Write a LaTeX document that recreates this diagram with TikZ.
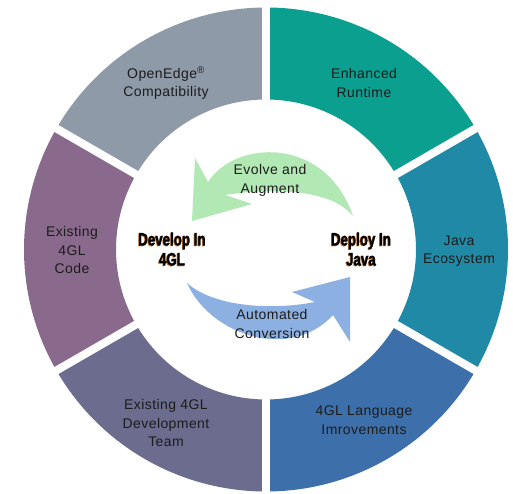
\documentclass[tikz,border=0pt]{standalone}
\usepackage{fontspec}
\setmainfont{Liberation Sans}[LetterSpace=3]
\newfontfamily\boldcond{Liberation Sans}[FakeStretch=0.74,FakeBold=1.2]
\definecolor{cgray}{HTML}{8F9AA8}
\definecolor{cteal}{HTML}{0A9F8F}
\definecolor{cjava}{HTML}{2089A6}
\definecolor{clang}{HTML}{3D70AA}
\definecolor{cteam}{HTML}{6C6C8E}
\definecolor{ccode}{HTML}{8A6A8C}
\definecolor{cblue}{HTML}{8DB0E2}
\definecolor{cgreen}{HTML}{B2E8B4}
\definecolor{ctext}{HTML}{1C1C1C}
\definecolor{cshadow}{HTML}{B86A20}
\newcommand\ringseg[3]{\fill[#1] (#2:242) arc[start angle=#2,end angle=#3,radius=242] -- (#3:150) arc[start angle=#3,end angle=#2,radius=150] -- cycle;}
\tikzset{
  seglabel/.style={align=center, inner sep=0pt, text=ctext, font=\fontsize{14}{18.5}\selectfont},
  arrowlabel/.style={align=center, inner sep=0pt, text=ctext, font=\fontsize{14}{19}\selectfont},
  hublabel/.style={align=center, inner sep=0pt, text=black, font=\boldcond\bfseries\fontsize{18}{20}\selectfont},
  hubshadow/.style={hublabel, text=cshadow},
}
\begin{document}
\begin{tikzpicture}[x=1pt,y=-1pt]
\fill[white] (0,0) rectangle (513,494);
\useasboundingbox (0,0) rectangle (513,494);
\begin{scope}[shift={(266,249.5)}]
  \ringseg{cteal}{-30}{-90}
  \ringseg{cgray}{-90}{-150}
  \ringseg{ccode}{-150}{-210}
  \ringseg{cteam}{-210}{-270}
  \ringseg{clang}{-270}{-330}
  \ringseg{cjava}{30}{-30}
  \foreach \a in {30,90,150,210,270,330}
    \draw[white, line width=8pt] (\a:140) -- (\a:252);
\end{scope}
% blue arrow
\fill[cblue] (187,283) .. controls (210,335) and (290,362) .. (333,315)
  -- (350,342) -- (350,277) -- (292,292) -- (315,302)
  .. controls (275,310) and (215,308) .. (187,283) -- cycle;
% green arrow
\fill[cgreen] (353,216) .. controls (325,135) and (235,140) .. (208,182)
  -- (195,158) -- (192,221) -- (252,204) -- (225,195)
  .. controls (270,188) and (330,188) .. (353,216) -- cycle;
% segment labels
\node[seglabel] (openedge) at (166,83) {OpenEdge\textsuperscript{®}\\Compatibility};
\node[seglabel] (runtime) at (364,83) {Enhanced\\Runtime};
\node[seglabel] (java) at (459,251) {Java\\Ecosystem};
\node[seglabel] (lang) at (364,420) {4GL Language\\Imrovements};
\node[seglabel] (team) at (166,423) {Existing 4GL\\Development\\Team};
\node[seglabel] (code) at (72,250) {Existing\\4GL\\Code};
% arrow labels
\node[arrowlabel] (evolve) at (270,180) {Evolve and\\Augment};
\node[arrowlabel] (auto) at (272,324) {Automated\\Conversion};
% hub labels
\node[hubshadow] at (171.2,249.7) {Develop In\\4GL};
\node[hublabel] (develop) at (172,249) {Develop In\\4GL};
\node[hubshadow] at (360.2,249.7) {Deploy In\\Java};
\node[hublabel] (deploy) at (361,249) {Deploy In\\Java};
\end{tikzpicture}
\end{document}
